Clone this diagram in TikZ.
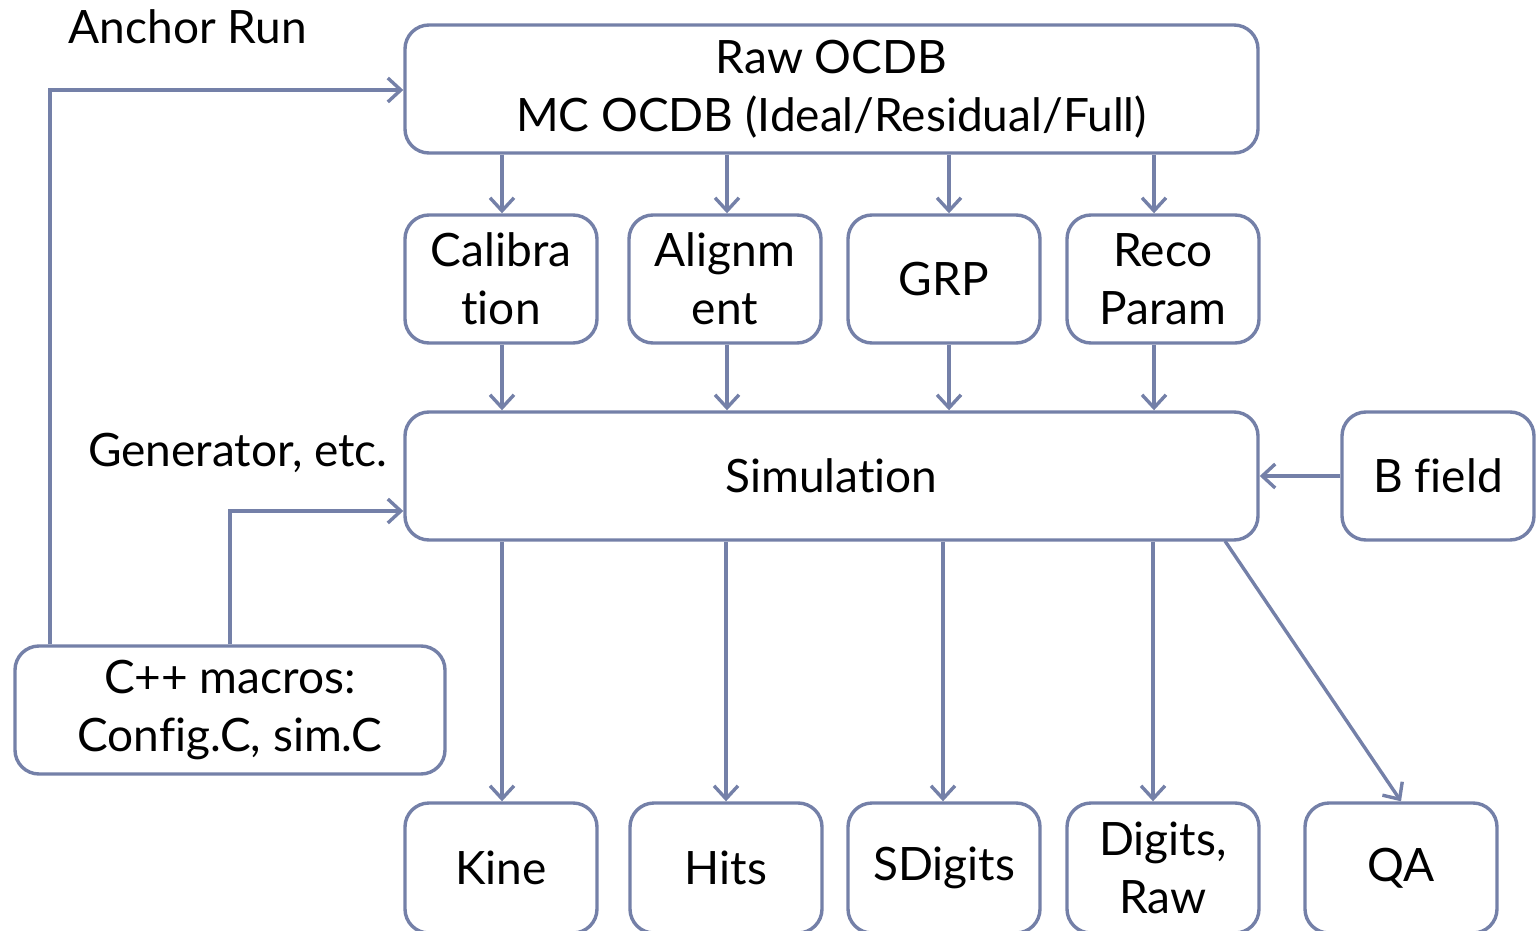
\documentclass[tikz,border=0pt]{standalone}
\usepackage{fontspec}
\setmainfont[Ligatures={NoCommon}]{Lato}
\usetikzlibrary{arrows.meta}
\definecolor{edge}{RGB}{116,128,168}
\tikzset{
  x=0.5pt, y=-0.5pt,
  box/.style={draw=edge, line width=1.7pt, rounded corners=12pt, fill=white,
    align=center, font=\fontsize{23}{29}\selectfont, inner sep=0pt},
  link/.style={draw=edge, line width=1.7pt,
    -{Straight Barb[length=6.5pt, width=12pt, line width=1.7pt]}},
  plain/.style={font=\fontsize{23}{29}\selectfont, inner sep=0pt}
}
\begin{document}
\begin{tikzpicture}
\useasboundingbox (0,0) rectangle (1537,931);
\clip (0,0) rectangle (1537,931);
% top database box
\node[box, minimum width=426.5pt, minimum height=64pt] (ocdb) at (831.5,89)
  {Raw OCDB\\MC OCDB (Ideal/Residual/Full)};
% conditions row
\node[box, minimum width=96pt, minimum height=64pt] (calib) at (501,279) {Calibra\\tion};
\node[box, minimum width=96pt, minimum height=64pt] (align) at (725,279) {Alignm\\ent};
\node[box, minimum width=96pt, minimum height=64pt] (grp) at (944,279) {GRP};
\node[box, minimum width=96pt, minimum height=64pt] (reco) at (1163,279) {Reco\\Param};
% simulation
\node[box, minimum width=426.5pt, minimum height=64pt] (sim) at (831.5,476) {Simulation};
\node[box, minimum width=96pt, minimum height=64pt] (bfield) at (1438,476) {B field};
% macros
\node[box, minimum width=215pt, minimum height=64pt] (macros) at (230,710)
  {C++ macros:\\Config.C, sim.C};
% outputs
\node[box, minimum width=96pt, minimum height=65pt] (kine) at (501,868) {Kine};
\node[box, minimum width=96pt, minimum height=65pt] (hits) at (726,868) {Hits};
\node[box, minimum width=96pt, minimum height=65pt] (sdig) at (944,868) {SDigits};
\node[box, minimum width=96pt, minimum height=65pt] (digits) at (1163,868) {Digits,\\Raw};
\node[box, minimum width=96pt, minimum height=65pt] (qa) at (1401,868) {QA};
% free labels
\node[plain] (anchor) at (188,27) {Anchor Run};
\node[plain] (gen) at (238,453) {Generator, etc.};
% database to conditions
\draw[link] (ocdb.south -| 502,0) -- (calib.north -| 502,0);
\draw[link] (ocdb.south -| 727,0) -- (align.north -| 727,0);
\draw[link] (ocdb.south -| 949,0) -- (grp.north -| 949,0);
\draw[link] (ocdb.south -| 1154,0) -- (reco.north -| 1154,0);
% conditions to simulation
\draw[link] (calib.south -| 502,0) -- (sim.north -| 502,0);
\draw[link] (align.south -| 727,0) -- (sim.north -| 727,0);
\draw[link] (grp.south -| 949,0) -- (sim.north -| 949,0);
\draw[link] (reco.south -| 1154,0) -- (sim.north -| 1154,0);
% B field
\draw[link] (bfield.west) -- (sim.east);
% simulation outputs
\draw[link] (sim.south -| 502,0) -- (kine.north -| 502,0);
\draw[link] (sim.south -| 726,0) -- (hits.north -| 726,0);
\draw[link] (sim.south -| 943,0) -- (sdig.north -| 943,0);
\draw[link] (sim.south -| 1153,0) -- (digits.north -| 1153,0);
\draw[link] (1225,541) -- (qa.north);
% macros feed
\draw[link] (macros.north -| 50,0) -- (50,90) -- (ocdb.west |- 0,90);
\draw[link] (macros.north -| 230,0) -- (230,511) -- (sim.west |- 0,511);
\end{tikzpicture}
\end{document}
